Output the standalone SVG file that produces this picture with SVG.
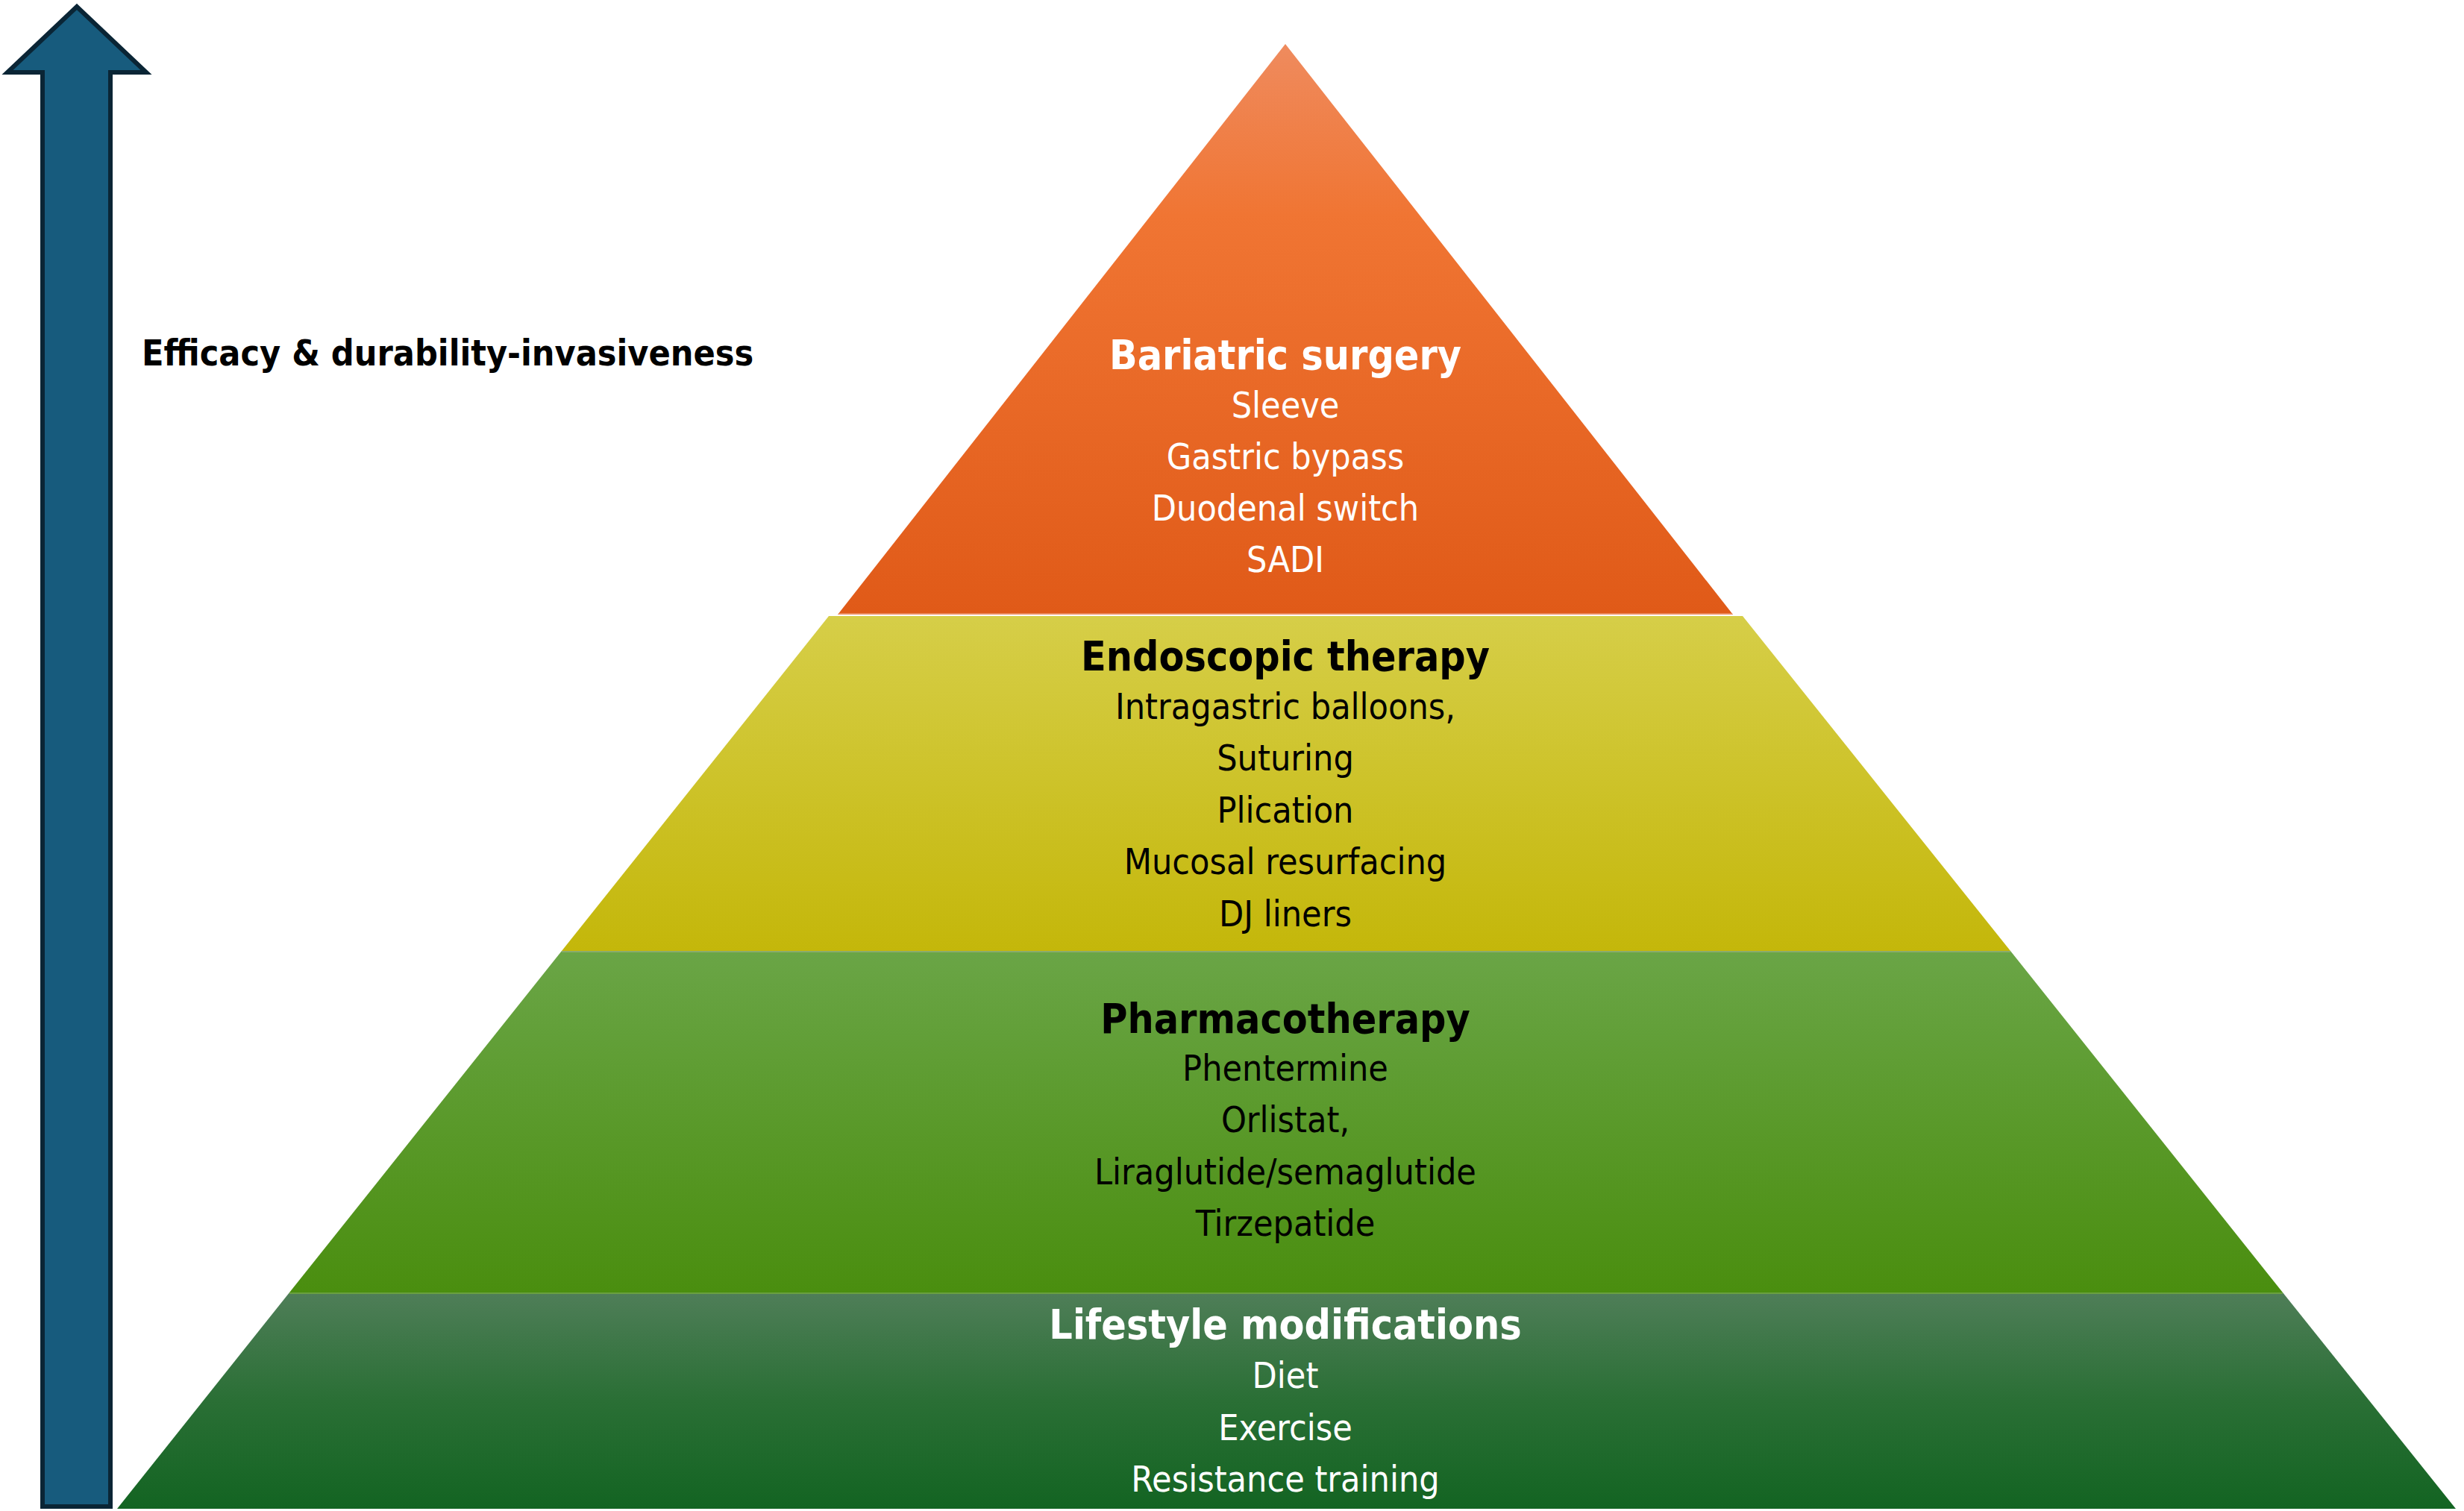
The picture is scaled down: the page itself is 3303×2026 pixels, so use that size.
<svg xmlns="http://www.w3.org/2000/svg" width="3303" height="2026" viewBox="0 0 3303 2026">
<style>
.t{font-family:"DejaVu Sans Condensed","DejaVu Sans",sans-serif;font-stretch:condensed;text-anchor:middle}
.h{font-size:55px;font-weight:bold}
.r{font-size:48px}
.w{fill:#ffffff}
.k{fill:#000000}
</style>
<defs>
<linearGradient id="gO" x1="0" y1="0" x2="0" y2="1">
<stop offset="0" stop-color="#ef8b5e"/><stop offset="0.3" stop-color="#f07533"/><stop offset="1" stop-color="#e05a18"/>
</linearGradient>
<linearGradient id="gY" x1="0" y1="0" x2="0" y2="1">
<stop offset="0" stop-color="#d6ce48"/><stop offset="1" stop-color="#c4b70a"/>
</linearGradient>
<linearGradient id="gG" x1="0" y1="0" x2="0" y2="1">
<stop offset="0" stop-color="#6aa546"/><stop offset="1" stop-color="#4a8e0f"/>
</linearGradient>
<linearGradient id="gD" x1="0" y1="0" x2="0" y2="1">
<stop offset="0" stop-color="#4f7e58"/><stop offset="0.5" stop-color="#2a6f35"/><stop offset="1" stop-color="#136422"/>
</linearGradient>
</defs>
<rect width="3303" height="2026" fill="#ffffff"/>
<g id="arrow">
<polygon points="103,9 196,97 148,97 148,2020 57,2020 57,97 10,97" fill="#175b7d" stroke="#0a2535" stroke-width="6" stroke-linejoin="miter"/>
<text class="t k" x="190" y="490" style="text-anchor:start;font-size:48px;font-weight:bold">Efficacy &amp; durability-invasiveness</text>
</g>
<g id="tier-bariatric">
<polygon points="1723,59 2323,824 1123,824" fill="url(#gO)"/>
<line x1="1124" y1="823" x2="2322" y2="823" stroke="#ec8a5c" stroke-width="2"/>
<text class="t h w" x="1723" y="495">Bariatric surgery</text>
<text class="t r w" x="1723" y="560">Sleeve</text>
<text class="t r w" x="1723" y="629">Gastric bypass</text>
<text class="t r w" x="1723" y="698">Duodenal switch</text>
<text class="t r w" x="1723" y="767">SADI</text>
</g>
<g id="tier-endoscopic">
<polygon points="1111,826 2336,826 2695,1275 753,1275" fill="url(#gY)"/>
<text class="t h k" x="1723" y="899">Endoscopic therapy</text>
<text class="t r k" x="1723" y="964">Intragastric balloons,</text>
<text class="t r k" x="1723" y="1033">Suturing</text>
<text class="t r k" x="1723" y="1103">Plication</text>
<text class="t r k" x="1723" y="1172">Mucosal resurfacing</text>
<text class="t r k" x="1723" y="1242">DJ liners</text>
</g>
<g id="tier-pharmacotherapy">
<polygon points="753,1275 2695,1275 3060,1733 388,1733" fill="url(#gG)"/>
<line x1="753" y1="1276" x2="2695" y2="1276" stroke="#8aac6c" stroke-width="2"/>
<text class="t h k" x="1723" y="1385">Pharmacotherapy</text>
<text class="t r k" x="1723" y="1449">Phentermine</text>
<text class="t r k" x="1723" y="1518">Orlistat,</text>
<text class="t r k" x="1723" y="1588">Liraglutide/semaglutide</text>
<text class="t r k" x="1723" y="1657">Tirzepatide</text>
</g>
<g id="tier-lifestyle">
<polygon points="388,1733 3060,1733 3292,2023 157,2023" fill="url(#gD)"/>
<line x1="388" y1="1734" x2="3060" y2="1734" stroke="#6aa040" stroke-width="2"/>
<text class="t h w" x="1723" y="1795">Lifestyle modifications</text>
<text class="t r w" x="1723" y="1861">Diet</text>
<text class="t r w" x="1723" y="1931">Exercise</text>
<text class="t r w" x="1723" y="2000">Resistance training</text>
</g>
<g id="connectors"/>
</svg>
